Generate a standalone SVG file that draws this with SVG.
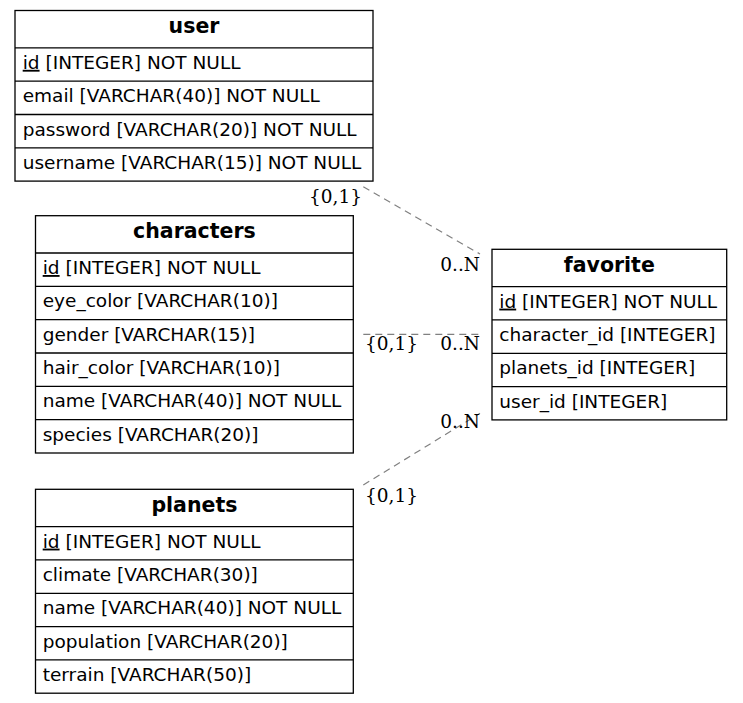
<svg xmlns="http://www.w3.org/2000/svg" width="743" height="703" viewBox="0 0 743 703">
<style>
.box{fill:#fff;stroke:#000;stroke-width:1.3}
.sep{stroke:#000;stroke-width:1.3}
.hd{font-family:"DejaVu Sans",sans-serif;font-weight:bold;font-size:20.5px;text-anchor:middle;fill:#000}
.col{font-family:"DejaVu Sans",sans-serif;font-size:18.5px;fill:#000}
.pk{text-decoration:underline}
.edge{fill:none;stroke:#808080;stroke-width:1.2;stroke-dasharray:7,5}
.lbl{font-family:"DejaVu Serif",serif;font-size:18.5px;fill:#000}
</style>
<rect width="743" height="703" fill="#fff"/>
<g id="connectors">
<line class="edge" x1="363.3" y1="186.7" x2="480" y2="254"/>
<line class="edge" x1="363.3" y1="334.3" x2="480" y2="334.3"/>
<line class="edge" x1="363.3" y1="485" x2="480" y2="413.3"/>
<text class="lbl" x="362" y="202.7" text-anchor="end">{0,1}</text>
<text class="lbl" x="480" y="270.7" text-anchor="end">0..N</text>
<text class="lbl" x="365" y="350">{0,1}</text>
<text class="lbl" x="480" y="350" text-anchor="end">0..N</text>
<text class="lbl" x="480" y="428.3" text-anchor="end">0..N</text>
<text class="lbl" x="365" y="501.7">{0,1}</text>
</g>
<g id="user">
<rect class="box" x="15" y="10.5" width="358" height="170.6"/>
<line class="sep" x1="15" y1="47.8" x2="373" y2="47.8"/>
<line class="sep" x1="15" y1="81.1" x2="373" y2="81.1"/>
<line class="sep" x1="15" y1="114.5" x2="373" y2="114.5"/>
<line class="sep" x1="15" y1="147.8" x2="373" y2="147.8"/>
<text class="hd" x="194" y="33">user</text>
<text class="col" x="22.7" y="68.8"><tspan class="pk">id</tspan> [INTEGER] NOT NULL</text>
<text class="col" x="22.7" y="102.1">email [VARCHAR(40)] NOT NULL</text>
<text class="col" x="22.7" y="135.5">password [VARCHAR(20)] NOT NULL</text>
<text class="col" x="22.7" y="168.8">username [VARCHAR(15)] NOT NULL</text>
</g>
<g id="characters">
<rect class="box" x="35.5" y="215.7" width="317.8" height="237.3"/>
<line class="sep" x1="35.5" y1="253" x2="353.3" y2="253"/>
<line class="sep" x1="35.5" y1="286.3" x2="353.3" y2="286.3"/>
<line class="sep" x1="35.5" y1="319.7" x2="353.3" y2="319.7"/>
<line class="sep" x1="35.5" y1="353" x2="353.3" y2="353"/>
<line class="sep" x1="35.5" y1="386.3" x2="353.3" y2="386.3"/>
<line class="sep" x1="35.5" y1="419.7" x2="353.3" y2="419.7"/>
<text class="hd" x="194.4" y="238.1">characters</text>
<text class="col" x="42.7" y="274"><tspan class="pk">id</tspan> [INTEGER] NOT NULL</text>
<text class="col" x="42.7" y="307.3">eye_color [VARCHAR(10)]</text>
<text class="col" x="42.7" y="340.7">gender [VARCHAR(15)]</text>
<text class="col" x="42.7" y="374">hair_color [VARCHAR(10)]</text>
<text class="col" x="42.7" y="407.3">name [VARCHAR(40)] NOT NULL</text>
<text class="col" x="42.7" y="440.7">species [VARCHAR(20)]</text>
</g>
<g id="favorite">
<rect class="box" x="492" y="249.3" width="234.7" height="170.6"/>
<line class="sep" x1="492" y1="286.6" x2="726.7" y2="286.6"/>
<line class="sep" x1="492" y1="319.9" x2="726.7" y2="319.9"/>
<line class="sep" x1="492" y1="353.3" x2="726.7" y2="353.3"/>
<line class="sep" x1="492" y1="386.6" x2="726.7" y2="386.6"/>
<text class="hd" x="609.3" y="271.7">favorite</text>
<text class="col" x="499.3" y="307.6"><tspan class="pk">id</tspan> [INTEGER] NOT NULL</text>
<text class="col" x="499.3" y="340.9">character_id [INTEGER]</text>
<text class="col" x="499.3" y="374.3">planets_id [INTEGER]</text>
<text class="col" x="499.3" y="407.6">user_id [INTEGER]</text>
</g>
<g id="planets">
<rect class="box" x="35.5" y="489.3" width="317.8" height="203.9"/>
<line class="sep" x1="35.5" y1="526.6" x2="353.3" y2="526.6"/>
<line class="sep" x1="35.5" y1="559.9" x2="353.3" y2="559.9"/>
<line class="sep" x1="35.5" y1="593.3" x2="353.3" y2="593.3"/>
<line class="sep" x1="35.5" y1="626.6" x2="353.3" y2="626.6"/>
<line class="sep" x1="35.5" y1="659.9" x2="353.3" y2="659.9"/>
<text class="hd" x="194.4" y="511.7">planets</text>
<text class="col" x="42.7" y="547.6"><tspan class="pk">id</tspan> [INTEGER] NOT NULL</text>
<text class="col" x="42.7" y="580.9">climate [VARCHAR(30)]</text>
<text class="col" x="42.7" y="614.3">name [VARCHAR(40)] NOT NULL</text>
<text class="col" x="42.7" y="647.6">population [VARCHAR(20)]</text>
<text class="col" x="42.7" y="680.9">terrain [VARCHAR(50)]</text>
</g>
</svg>
